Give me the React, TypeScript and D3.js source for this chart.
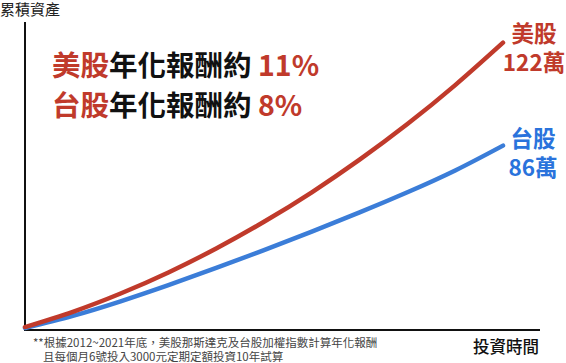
import React from "react";
import * as d3 from "d3";

const months = [0, 12, 24, 36, 48, 60, 72, 84, 96, 108, 120];
const usValues = [0.4, 6.9, 14.7, 23.7, 33.9, 45.3, 57.9, 71.8, 87.0, 103.6, 121.7];
const twValues = [0, 5.2, 11.4, 18.3, 25.6, 33.2, 41.1, 49.3, 57.9, 67.2, 77.8];
const usLabel = ["美股", "122萬"];
const twLabel = ["台股", "86萬"];
const yTitle = "累積資產";
const xTitle = "投資時間";
const notes = [
  "**根據2012~2021年底，美股那斯達克及台股加權指數計算年化報酬",
  "且每個月6號投入3000元定期定額投資10年試算",
];

const RED = "#c03a2b";
const BLUE = "#3b7dd8";
const BLUE_TEXT = "#2a73dc";
const FONT = "'Noto Sans CJK TC', 'Noto Sans', sans-serif";

export default function App() {
  const W = 566, H = 363;
  const x = d3.scaleLinear().domain([0, 120]).range([25, 503]);
  const y = d3.scaleLinear().domain([0, 122]).range([328, 42]);
  const line = d3
    .line<number>()
    .x((_, i) => x(months[i]))
    .y((d) => y(d))
    .curve(d3.curveNatural);

  return (
    <svg
      width={W}
      height={H}
      style={{ position: "absolute", left: 0, top: 0, fontFamily: FONT }}
    >
      <rect width={W} height={H} fill="#fff" />
      <text x={0} y={15} fontSize={15} fill="#222">{yTitle}</text>
      <line x1={25} y1={22} x2={25} y2={331} stroke="#111" strokeWidth={2} />
      <line x1={24} y1={330} x2={540} y2={330} stroke="#111" strokeWidth={2} />

      <path d={line(twValues) || ""} fill="none" stroke={BLUE} strokeWidth={4.5} strokeLinecap="round" />
      <path d={line(usValues) || ""} fill="none" stroke={RED} strokeWidth={4.5} strokeLinecap="round" />

      <text x={52} y={76} fontSize={28.5} fontWeight={700} fill="#111">
        <tspan fill={RED}>美股</tspan>
        <tspan>年化報酬約 </tspan>
        <tspan fill={RED}>11%</tspan>
      </text>
      <text x={52} y={116} fontSize={28.5} fontWeight={700} fill="#111">
        <tspan fill={RED}>台股</tspan>
        <tspan>年化報酬約 </tspan>
        <tspan fill={RED}>8%</tspan>
      </text>

      <g fontWeight={700} fontSize={22.5} textAnchor="middle">
        <text x={534} y={42} fill={RED}>{usLabel[0]}</text>
        <text x={534} y={71} fill={RED}>{usLabel[1]}</text>
        <text x={533} y={147} fill={BLUE_TEXT}>{twLabel[0]}</text>
        <text x={533} y={176} fill={BLUE_TEXT}>{twLabel[1]}</text>
      </g>

      <text x={33} y={347} fontSize={11.5} fill="#444">{notes[0]}</text>
      <text x={43} y={360.5} fontSize={11.5} fill="#444">{notes[1]}</text>
      <text x={539} y={353} fontSize={16.5} fill="#111" textAnchor="end" fontWeight={500}>{xTitle}</text>
    </svg>
  );
}
